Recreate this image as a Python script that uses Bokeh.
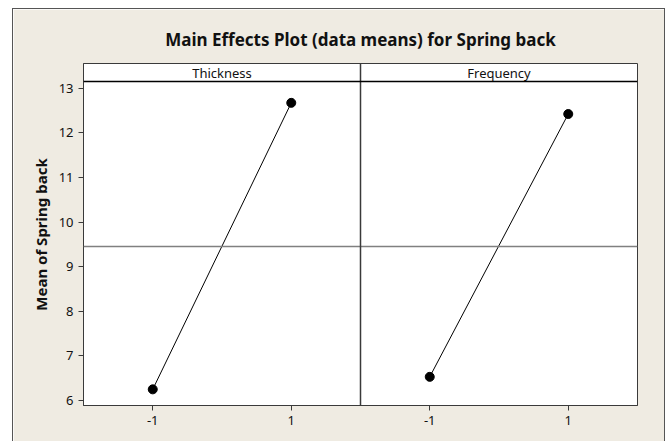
from bokeh.plotting import figure
from bokeh.models import FixedTicker, Span, Title, Range1d
from bokeh.core.properties import value
from bokeh.embed import file_html
from bokeh.resources import INLINE

# ---- data ----
factors = ["Thickness", "Frequency"]
levels = [-1, 1]
thickness_means = [6.25, 12.67]
frequency_means = [6.53, 12.42]
grand_mean = 9.45
y_ticks = [6, 7, 8, 9, 10, 11, 12, 13]

series = [thickness_means, frequency_means]

# ---- layout constants ----
PANEL_W = 4.0          # each panel spans 4 x-units (-2..2)
Y_BOTTOM = 5.888
Y_DATA_TOP = 13.148
Y_STRIP_TOP = 13.552
BG = "#EFEBE2"
DARK = "#3a3a3a"
FONT = "Noto Sans"

p = figure(width=653, height=440, output_backend="svg", toolbar_location=None,
           x_range=Range1d(-PANEL_W / 2, -PANEL_W / 2 + PANEL_W * len(factors)),
           y_range=Range1d(Y_BOTTOM, Y_STRIP_TOP),
           min_border_left=70, min_border_right=29, min_border_top=54, min_border_bottom=44,
           margin=(8, 0, 0, 12),
           styles={"border": "1px solid #555555"})

p.border_fill_color = BG
p.background_fill_color = "white"
p.outline_line_color = DARK
p.outline_line_width = 1
p.xgrid.visible = False
p.ygrid.visible = False

title = Title(text="Main Effects Plot (data means) for Spring back", align="center",
              text_font=FONT, text_font_size="17px", text_font_style="bold",
              text_color="#111111", standoff=26, text_line_height=0.9)
p.add_layout(title, "above")

# axes
p.yaxis.ticker = FixedTicker(ticks=y_ticks)
p.yaxis.axis_label = "Mean of Spring back"
p.yaxis.axis_label_text_font = FONT
p.yaxis.axis_label_text_font_size = "15px"
p.yaxis.axis_label_text_font_style = "bold"
p.yaxis.axis_label_text_color = "#111111"
p.yaxis.axis_label_standoff = 5

xticks = []
overrides = {}
for i in range(len(factors)):
    for lev in levels:
        t = i * PANEL_W + lev
        xticks.append(t)
        overrides[t] = str(lev)
p.xaxis.ticker = FixedTicker(ticks=xticks)
p.xaxis.major_label_overrides = overrides

for ax in (p.xaxis[0], p.yaxis[0]):
    ax.major_label_text_font = FONT
    ax.major_label_text_font_size = "13px"
    ax.major_label_text_color = "#111111"
    ax.major_tick_in = 0
    ax.major_tick_out = 5
    ax.major_tick_line_color = DARK
    ax.minor_tick_line_color = None
    ax.axis_line_color = DARK

# reference line (grand mean)
p.add_layout(Span(location=grand_mean, dimension="width", line_color="#808080", line_width=1.6))

# panel divider and strip
for i in range(1, len(factors)):
    p.add_layout(Span(location=-PANEL_W / 2 + PANEL_W * i, dimension="height",
                      line_color=DARK, line_width=1.5))
p.add_layout(Span(location=Y_DATA_TOP, dimension="width", line_color="black", line_width=1.5))

strip_x = [i * PANEL_W for i in range(len(factors))]
strip_y = [(Y_DATA_TOP + Y_STRIP_TOP) / 2] * len(factors)
p.text(x=strip_x, y=strip_y, text=factors, text_align="center", text_baseline="middle",
       text_font=value(FONT), text_font_size="13px", text_color="#111111")

# effects
for i, means in enumerate(series):
    xs = [i * PANEL_W + lev for lev in levels]
    p.line(xs, means, line_color="black", line_width=1)
    p.scatter(xs, means, size=9, fill_color="black", line_color="black")

open("out.html", "w").write(file_html(p, INLINE))
